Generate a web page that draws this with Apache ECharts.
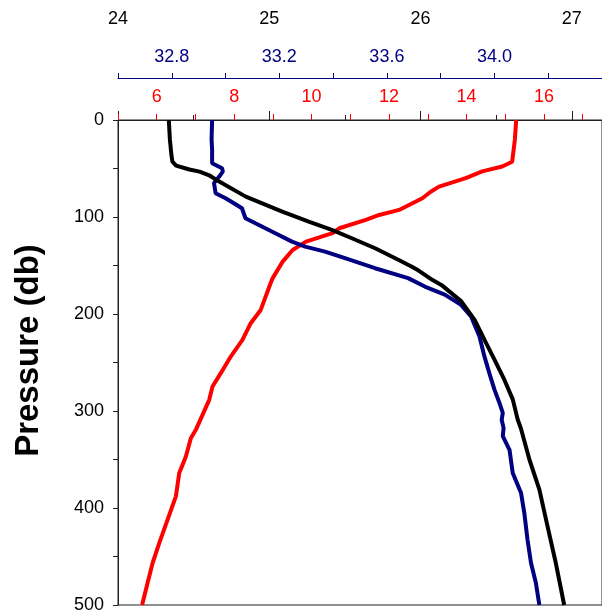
<!DOCTYPE html>
<html>
<head>
<meta charset="utf-8">
<script src="https://cdn.jsdelivr.net/npm/echarts@6/dist/echarts.min.js"></script>
<style>html,body{margin:0;padding:0;background:#fff}#c{width:602px;height:614px}</style>
</head>
<body>
<div id="c"></div>
<script>
// Pressure (db) and values for each profile
const densityP = [0, 20, 36, 43, 47, 51, 53.2, 57, 63.5, 79, 94.4, 104.8, 113.3, 121.9, 132.2, 144, 151, 155, 165, 170, 187, 206, 227, 247, 268, 288, 309, 318, 350, 381, 419, 457, 500];
const densityV = [24.336, 24.343, 24.353, 24.36, 24.384, 24.472, 24.539, 24.603, 24.669, 24.845, 25.086, 25.261, 25.414, 25.546, 25.70, 25.853, 25.94, 25.985, 26.08, 26.138, 26.270, 26.358, 26.424, 26.489, 26.555, 26.61, 26.643, 26.664, 26.72, 26.786, 26.84, 26.895, 26.95];

const salinityP = [0, 20, 30.9, 44.6, 49.8, 53, 56.7, 65, 75.5, 80.7, 85.9, 91, 101.3, 106.5, 111.6, 118.5, 125.4, 130.5, 135.7, 142.5, 152.8, 163, 171.7, 180, 190.6, 202.6, 223, 244, 261, 278, 292, 302, 309, 317.6, 326, 340, 364, 384.6, 405, 432.7, 456.7, 477, 500];
const salinityV = [32.950, 32.948, 32.950, 32.950, 32.987, 32.99, 32.981, 32.957, 32.963, 33.0, 33.031, 33.061, 33.074, 33.111, 33.148, 33.198, 33.247, 33.296, 33.370, 33.444, 33.556, 33.679, 33.741, 33.815, 33.876, 33.913, 33.944, 33.963, 33.981, 34.0, 34.019, 34.031, 34.027, 34.034, 34.031, 34.056, 34.068, 34.099, 34.111, 34.123, 34.136, 34.154, 34.167];

const tempP = [0, 20, 43, 48, 53, 60, 68.7, 74, 80.7, 92.7, 97.9, 103, 111.6, 116.7, 125.4, 134, 146, 163, 168, 195.8, 209.5, 226.7, 243.9, 261, 274.8, 288.5, 304, 319.4, 328, 347, 364, 388, 412, 436, 456.7, 477, 497.6, 500];
const tempV = [15.284, 15.25, 15.18, 14.923, 14.407, 13.98, 13.291, 13.077, 12.861, 12.26, 11.745, 11.40, 10.714, 10.541, 9.856, 9.51, 9.253, 8.995, 8.943, 8.686, 8.428, 8.214, 7.912, 7.655, 7.441, 7.356, 7.183, 7.01, 6.881, 6.753, 6.582, 6.495, 6.281, 6.067, 5.894, 5.765, 5.637, 5.624];

const FONT = '"Liberation Sans", Arial, sans-serif';
const pairs = (v, p) => v.map((x, i) => [x, p[i]]);

const chart = echarts.init(document.getElementById('c'), null, {renderer: 'canvas'});
chart.setOption({
  animation: false,
  backgroundColor: '#fff',
  grid: {left: 118, top: 120, width: 486, height: 485, show: true, borderColor: '#222', borderWidth: 1, backgroundColor: 'transparent'},
  xAxis: [
    {
      type: 'value', position: 'top', offset: 79, min: 24, max: 27.2, interval: 1,
      axisLine: {show: true, lineStyle: {color: '#222', width: 1}},
      axisTick: {show: true, inside: false, length: 9, lineStyle: {color: '#222'}},
      minorTick: {show: true, splitNumber: 2, length: 5, lineStyle: {color: '#222'}},
      splitLine: {show: false},
      axisLabel: {color: '#000', fontSize: 18, fontFamily: FONT, margin: 13, showMaxLabel: false,
        formatter: v => Number.isInteger(Math.round(v * 1000) / 1000) ? String(Math.round(v)) : ''}
    },
    {
      type: 'value', position: 'top', offset: 42, min: 32.6, max: 34.4, interval: 0.2,
      axisLine: {show: true, lineStyle: {color: '#000080', width: 1}},
      axisTick: {show: true, length: 5, lineStyle: {color: '#000080'}},
      splitLine: {show: false},
      axisLabel: {color: '#000080', fontSize: 18, fontFamily: FONT, margin: 12, showMaxLabel: false, showMinLabel: true,
        formatter: v => (Math.round(v * 10) % 4 === 0) ? v.toFixed(1) : ''}
    },
    {
      type: 'value', position: 'top', offset: 0, min: 5, max: 17.5, interval: 1,
      axisLine: {show: true, lineStyle: {color: '#222', width: 1}},
      axisTick: {show: true, length: 6, lineStyle: {color: '#ff0000'}},
      splitLine: {show: false},
      axisLabel: {color: '#ff0000', fontSize: 18, fontFamily: FONT, margin: 14, showMaxLabel: false,
        formatter: v => (Math.round(v) === v && v % 2 === 0) ? String(v) : ''}
    }
  ],
  yAxis: {
    type: 'value', inverse: true, min: 0, max: 500, interval: 100,
    name: 'Pressure (db)', nameLocation: 'middle', nameGap: 73, nameRotate: 90,
    nameTextStyle: {fontSize: 33, fontWeight: 'bold', color: '#000', fontFamily: FONT, padding: [0, 0, 0, 24]},
    axisLine: {show: true, lineStyle: {color: '#222'}},
    axisTick: {show: true, length: 5, lineStyle: {color: '#222'}},
    minorTick: {show: true, splitNumber: 2, length: 5, lineStyle: {color: '#222'}},
    splitLine: {show: false},
    axisLabel: {color: '#000', fontSize: 18, fontFamily: FONT, margin: 14}
  },
  series: [
    {type: 'line', name: 'Temperature', xAxisIndex: 2, yAxisIndex: 0, data: pairs(tempV, tempP), showSymbol: false, symbol: 'none', lineStyle: {color: '#ff0000', width: 4}, z: 3},
    {type: 'line', name: 'Salinity', xAxisIndex: 1, yAxisIndex: 0, data: pairs(salinityV, salinityP), showSymbol: false, symbol: 'none', lineStyle: {color: '#000080', width: 4}, z: 4},
    {type: 'line', name: 'Density', xAxisIndex: 0, yAxisIndex: 0, data: pairs(densityV, densityP), showSymbol: false, symbol: 'none', lineStyle: {color: '#000000', width: 4}, z: 5}
  ]
});
</script>
</body>
</html>
